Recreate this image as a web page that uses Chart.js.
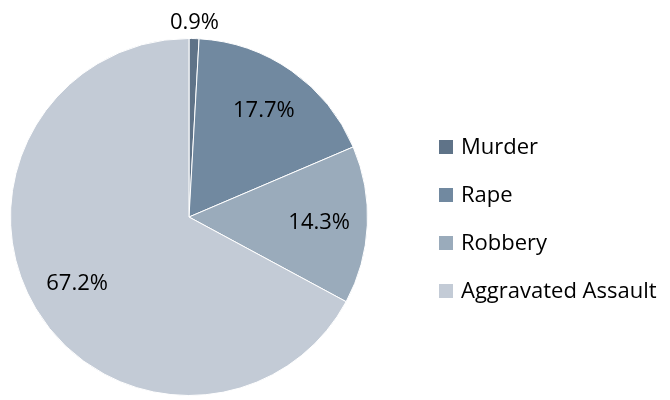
<!DOCTYPE html>
<html>
<head>
<meta charset="utf-8">
<script src="https://cdn.jsdelivr.net/npm/chart.js@4"></script>
<style>
	html, body { margin: 0; padding: 0; background: #fff; }
	#wrap { width: 670px; height: 400px; }
</style>
</head>
<body>
<div id="wrap"><canvas id="pieChart" width="670" height="400"></canvas></div>
<script>
// Chart data
const categories = ['Murder', 'Rape', 'Robbery', 'Aggravated Assault'];
const shares = [0.9, 17.7, 14.3, 67.2];
const sliceColors = ['#5f7388', '#7189a0', '#9aabbb', '#c3cbd6'];

const FONT = '"Open Sans", "Liberation Sans", sans-serif';

// Draw percentage labels on (or just above) each slice
const sliceLabels = {
	id: 'sliceLabels',
	afterDatasetsDraw(chart) {
		const ctx = chart.ctx;
		const meta = chart.getDatasetMeta(0);
		ctx.save();
		ctx.font = '22px ' + FONT;
		ctx.fillStyle = '#000';
		ctx.textAlign = 'center';
		ctx.textBaseline = 'middle';
		meta.data.forEach((arc, i) => {
			const mid = (arc.startAngle + arc.endAngle) / 2;
			// tiny slices get their label outside the pie
			const r = shares[i] < 3 ? arc.outerRadius + 16 : arc.outerRadius * 0.73;
			const x = arc.x + Math.cos(mid) * r;
			const y = arc.y + Math.sin(mid) * r;
			ctx.fillText(shares[i].toFixed(1) + '%', x, y);
		});
		ctx.restore();
	}
};

// Legend on the right, drawn by hand to match spacing
const sideLegend = {
	id: 'sideLegend',
	afterDraw(chart) {
		const ctx = chart.ctx;
		const left = 439, top = 147, step = 48, box = 14;
		ctx.save();
		ctx.font = '22px ' + FONT;
		ctx.textBaseline = 'middle';
		ctx.textAlign = 'left';
		categories.forEach((name, i) => {
			const y = top + i * step;
			ctx.fillStyle = sliceColors[i];
			ctx.fillRect(left, y - box / 2, box, box);
			ctx.fillStyle = '#000';
			ctx.fillText(name, left + 22, y + 1);
		});
		ctx.restore();
	}
};

new Chart(document.getElementById('pieChart').getContext('2d'), {
	type: 'pie',
	data: {
		labels: categories,
		datasets: [{
			data: shares,
			backgroundColor: sliceColors,
			borderColor: '#ffffff',
			borderWidth: 1
		}]
	},
	options: {
		responsive: false,
		animation: false,
		layout: { padding: { left: 10, top: 37, right: 302, bottom: 3 } },
		plugins: {
			legend: { display: false },
			tooltip: { enabled: false }
		}
	},
	plugins: [sliceLabels, sideLegend]
});
</script>
</body>
</html>
